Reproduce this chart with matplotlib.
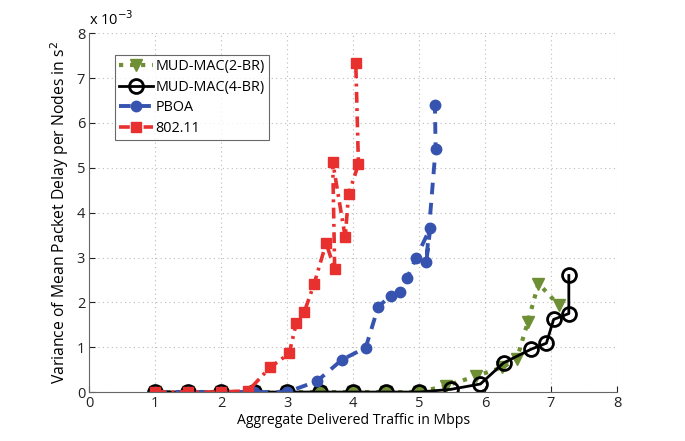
import matplotlib
matplotlib.use("Agg")
import matplotlib.pyplot as plt

plt.rcParams['font.family'] = ['Open Sans', 'DejaVu Sans']

# Data (y values in units of 1e-3 s^2)
x_2br = [1, 1.5, 2, 2.5, 3, 3.5, 4, 4.5, 5, 5.41, 5.87, 6.26, 6.48, 6.65, 6.81, 7.12]
y_2br = [0, 0, 0, 0, 0, 0, 0, 0, 0, 0.14, 0.36, 0.55, 0.73, 1.57, 2.42, 1.93]

x_4br = [1, 1.5, 2, 2.5, 3, 3.5, 4, 4.5, 5, 5.48, 5.93, 6.28, 6.69, 6.93, 7.04, 7.27, 7.27]
y_4br = [0, 0, 0, 0, 0, 0, 0, 0, 0, 0.06, 0.18, 0.65, 0.95, 1.09, 1.62, 1.75, 2.60]

x_pboa = [1, 1.5, 2, 2.5, 3, 3.45, 3.83, 4.19, 4.38, 4.57, 4.71, 4.82, 4.95, 5.17, 5.11, 5.25, 5.24]
y_pboa = [0, 0, 0, 0, 0, 0.24, 0.72, 0.99, 1.90, 2.15, 2.22, 2.55, 2.98, 3.66, 2.91, 5.43, 6.41]

x_80211 = [1, 1.5, 2, 2.41, 2.74, 3.03, 3.14, 3.26, 3.41, 3.59, 3.72, 3.69, 3.88, 3.93, 4.08, 4.04]
y_80211 = [0, 0, 0, 0.03, 0.55, 0.86, 1.55, 1.79, 2.42, 3.32, 2.74, 5.14, 3.45, 4.41, 5.08, 7.34]

labels = ['MUD-MAC(2-BR)', 'MUD-MAC(4-BR)', 'PBOA', '802.11']
x_ticks = [0, 1, 2, 3, 4, 5, 6, 7, 8]
y_ticks = [0, 1, 2, 3, 4, 5, 6, 7, 8]

fig = plt.figure(figsize=(6.85, 4.41), dpi=100)
ax = fig.add_axes([0.1304, 0.111, 0.7703, 0.8135])

green = '#6f8f35'
blue = '#3753b0'
red = '#e8302f'

ax.plot(x_2br, y_2br, linestyle=':', color=green, lw=3, marker='v',
        markersize=8, markerfacecolor=green, markeredgecolor=green, label=labels[0])
ax.plot(x_4br, y_4br, linestyle='-', color='black', lw=2, marker='o',
        markersize=10, markerfacecolor='none', markeredgecolor='black',
        markeredgewidth=2, label=labels[1])
ax.plot(x_pboa, y_pboa, linestyle=(0, (3, 2.2)), color=blue, lw=2.8, marker='o',
        markersize=7.5, markerfacecolor=blue, markeredgecolor=blue, label=labels[2])
ax.plot(x_80211, y_80211, linestyle=(0, (3, 1.5, 0.8, 1.5)), color=red, lw=2.6, marker='s',
        markersize=7, markerfacecolor=red, markeredgecolor=red, label=labels[3])

ax.set_xlim(0, 8)
ax.set_ylim(0, 8)
ax.set_xticks(x_ticks)
ax.set_yticks(y_ticks)
ax.tick_params(direction='in', labelsize=10.5, colors='#222222', length=4, pad=3)
ax.grid(True, linestyle=(0, (1, 3)), color='#bbbbbb', lw=0.8)
for s in ['top', 'right']:
    ax.spines[s].set_visible(False)
for s in ['left', 'bottom']:
    ax.spines[s].set_color('#666666')
ax.set_xlabel('Aggregate Delivered Traffic in Mbps', fontsize=10.1, labelpad=1)
ax.set_ylabel('Variance of Mean Packet Delay per Nodes in s$^2$', fontsize=11.3, labelpad=4)
ax.text(0.0, 1.012, r'x 10$^{-3}$', transform=ax.transAxes, fontsize=10.5, ha='left', va='bottom')

leg = ax.legend(loc='upper left', bbox_to_anchor=(0.035, 0.96), fontsize=10.4,
                frameon=True, fancybox=False, edgecolor='#444444', handlelength=2.3,
                handletextpad=0.2, borderpad=0.3, labelspacing=0.38)
leg.get_frame().set_linewidth(0.8)

fig.savefig('out.png', dpi=100)
